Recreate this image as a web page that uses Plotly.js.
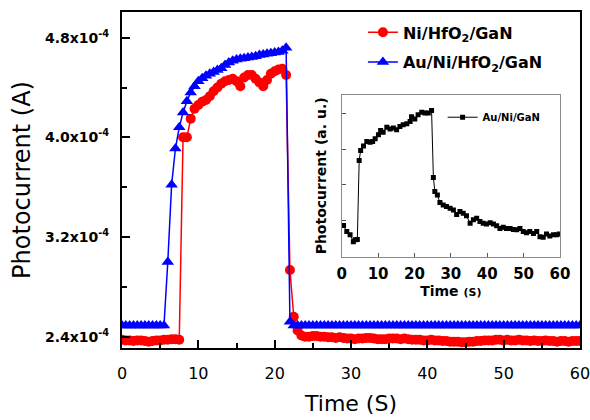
<!DOCTYPE html>
<html>
<head>
<meta charset="utf-8">
<script src="https://cdn.plot.ly/plotly-3.0.1.min.js"></script>
<style>html,body{margin:0;padding:0;background:#fff;}</style>
</head>
<body>
<div id="chart" style="width:590px;height:420px;"></div>
<script>
// ---- main chart data ----
const timeMain = [0,0.5,1,1.5,2,2.5,3,3.5,4,4.5,5,5.5,6,6.5,7,7.5,8,8.5,9,9.5,10,10.5,11,11.5,12,12.5,13,13.5,14,14.5,15,15.5,16,16.5,17,17.5,18,18.5,19,19.5,20,20.5,21,21.5,22,22.5,23,23.5,24,24.5,25,25.5,26,26.5,27,27.5,28,28.5,29,29.5,30,30.5,31,31.5,32,32.5,33,33.5,34,34.5,35,35.5,36,36.5,37,37.5,38,38.5,39,39.5,40,40.5,41,41.5,42,42.5,43,43.5,44,44.5,45,45.5,46,46.5,47,47.5,48,48.5,49,49.5,50,50.5,51,51.5,52,52.5,53,53.5,54,54.5,55,55.5,56,56.5,57,57.5,58,58.5,59,59.5,60];

const niHfO2GaN = [
 2.375e-4,2.370e-4,2.370e-4,2.365e-4,2.370e-4,2.370e-4,2.365e-4,2.360e-4,2.365e-4,2.370e-4,2.370e-4,2.375e-4,2.375e-4,2.380e-4,2.380e-4,2.375e-4,
 4.000e-4,4.000e-4,4.150e-4,4.230e-4,4.260e-4,4.285e-4,4.300e-4,4.330e-4,4.370e-4,4.400e-4,4.430e-4,4.450e-4,4.460e-4,4.470e-4,4.450e-4,4.410e-4,4.480e-4,4.500e-4,4.500e-4,4.470e-4,4.440e-4,4.410e-4,4.460e-4,4.510e-4,4.530e-4,4.545e-4,4.550e-4,4.500e-4,
 2.935e-4,2.560e-4,2.450e-4,2.410e-4,2.400e-4,
 2.400e-4,2.405e-4,2.405e-4,2.400e-4,2.400e-4,2.395e-4,2.395e-4,2.390e-4,2.395e-4,2.390e-4,2.385e-4,2.385e-4,2.380e-4,2.385e-4,2.385e-4,2.390e-4,2.390e-4,2.385e-4,2.380e-4,2.380e-4,2.380e-4,2.385e-4,2.385e-4,2.385e-4,2.380e-4,2.385e-4,2.380e-4,2.375e-4,2.375e-4,2.375e-4,2.370e-4,2.370e-4,2.375e-4,2.370e-4,2.370e-4,2.365e-4,2.365e-4,2.360e-4,2.360e-4,2.360e-4,2.355e-4,2.355e-4,2.360e-4,2.360e-4,2.365e-4,2.365e-4,2.370e-4,2.370e-4,2.370e-4,2.375e-4,2.375e-4,2.370e-4,2.375e-4,2.370e-4,2.370e-4,2.375e-4,2.370e-4,2.370e-4,2.365e-4,2.370e-4,2.365e-4,2.365e-4,2.370e-4,2.365e-4,2.365e-4,2.360e-4,2.365e-4,2.365e-4,2.360e-4,2.365e-4,2.365e-4,2.365e-4
];

const auNiHfO2GaN = [
 2.49e-4,2.49e-4,2.49e-4,2.49e-4,2.49e-4,2.49e-4,2.49e-4,2.49e-4,2.49e-4,2.49e-4,2.49e-4,2.49e-4,
 3.000e-4,3.620e-4,3.910e-4,4.080e-4,4.200e-4,4.290e-4,4.360e-4,4.410e-4,4.450e-4,4.475e-4,4.495e-4,4.510e-4,4.525e-4,4.540e-4,4.555e-4,4.580e-4,4.600e-4,4.615e-4,4.625e-4,4.630e-4,4.635e-4,4.640e-4,4.645e-4,4.650e-4,4.660e-4,4.665e-4,4.670e-4,4.675e-4,4.680e-4,4.685e-4,4.695e-4,4.720e-4,
 2.52e-4,
 2.49e-4,2.49e-4,2.49e-4,2.49e-4,2.49e-4,2.49e-4,2.49e-4,2.49e-4,2.49e-4,2.49e-4,2.49e-4,2.49e-4,2.49e-4,2.49e-4,2.49e-4,2.49e-4,2.49e-4,2.49e-4,2.49e-4,2.49e-4,
 2.49e-4,2.49e-4,2.49e-4,2.49e-4,2.49e-4,2.49e-4,2.49e-4,2.49e-4,2.49e-4,2.49e-4,2.49e-4,2.49e-4,2.49e-4,2.49e-4,2.49e-4,2.49e-4,2.49e-4,2.49e-4,2.49e-4,2.49e-4,
 2.49e-4,2.49e-4,2.49e-4,2.49e-4,2.49e-4,2.49e-4,2.49e-4,2.49e-4,2.49e-4,2.49e-4,2.49e-4,2.49e-4,2.49e-4,2.49e-4,2.49e-4,2.49e-4,2.49e-4,2.49e-4,2.49e-4,2.49e-4,
 2.49e-4,2.49e-4,2.49e-4,2.49e-4,2.49e-4,2.49e-4,2.49e-4,2.49e-4,2.49e-4,2.49e-4,2.49e-4,2.49e-4,2.49e-4,2.49e-4,2.49e-4,2.49e-4
];

const xTickVals = [0,10,20,30,40,50,60];
const xTickText = ['0','10','20','30','40','50','60'];
const yTickVals = [2.4e-4,3.2e-4,4.0e-4,4.8e-4];
const yTickText = ['2.4x10<sup>-4</sup>','3.2x10<sup>-4</sup>','4.0x10<sup>-4</sup>','4.8x10<sup>-4</sup>'];

// ---- inset data (arbitrary units) ----
const timeInset = [0.5,1.4,2.3,3.2,3.7,4.3,4.8,5.2,6.0,6.9,7.8,8.5,9.2,10.1,10.7,11.4,12.4,13.3,14.2,15.1,16.0,16.9,17.9,18.8,19.2,20.1,21.0,22.0,22.9,23.8,24.7,25.2,25.6,26.3,27.0,27.9,28.8,29.8,30.7,31.6,32.5,33.4,34.3,35.3,36.2,37.1,38.0,38.9,39.8,40.8,41.7,42.6,43.5,44.4,45.3,46.3,47.2,48.1,49.0,49.9,50.8,51.7,52.7,53.6,54.5,55.4,56.3,57.2,58.2,59.1,59.8];
const auNiGaN = [0.87,0.70,0.61,0.42,0.47,0.48,2.68,2.96,3.09,3.21,3.19,3.21,3.29,3.40,3.52,3.47,3.61,3.56,3.59,3.54,3.63,3.68,3.71,3.77,3.90,3.84,3.96,4.03,4.01,4.01,4.08,2.21,1.82,1.72,1.51,1.44,1.40,1.35,1.30,1.18,1.26,1.21,1.14,0.93,1.03,1.07,0.98,0.93,0.91,0.95,0.91,0.86,0.79,0.82,0.79,0.79,0.76,0.75,0.79,0.70,0.67,0.70,0.65,0.70,0.56,0.54,0.63,0.58,0.61,0.61,0.63];
const insetXTickVals = [0,10,20,30,40,50,60];
const insetYTickVals = [1,2,3,4];

const FONT = 'DejaVu Sans';

const traces = [
  {x: timeMain, y: niHfO2GaN, type:'scatter', mode:'lines+markers', name:'Ni/HfO<sub>2</sub>/GaN',
   line:{color:'#ff0000', width:1.5}, marker:{symbol:'circle', size:10, color:'#ff0000'},
   xaxis:'x', yaxis:'y', legend:'legend', legendgroup:'a'},
  {x: timeMain, y: auNiHfO2GaN, type:'scatter', mode:'lines+markers', name:'Au/Ni/HfO<sub>2</sub>/GaN',
   line:{color:'#0000ff', width:1.5}, marker:{symbol:'triangle-up', size:11, color:'#0000ff'},
   xaxis:'x', yaxis:'y', legend:'legend', legendgroup:'b'},
  {x: timeInset, y: auNiGaN, type:'scatter', mode:'lines+markers', name:'Au/Ni/GaN',
   line:{color:'#000000', width:1}, marker:{symbol:'square', size:5, color:'#000000'},
   xaxis:'x2', yaxis:'y3', legend:'legend2'}
];

const layout = {
  width:590, height:420,
  margin:{l:122, r:10, t:12, b:72},
  paper_bgcolor:'#ffffff', plot_bgcolor:'#ffffff',
  font:{family:FONT, color:'#000000'},
  showlegend:true,
  xaxis:{
    domain:[0,1], range:[0,60], anchor:'y',
    tickmode:'array', tickvals:xTickVals, ticktext:xTickText,
    ticks:'inside', ticklen:8, tickwidth:2, tickcolor:'#000',
    minor:{dtick:5, tick0:0, ticks:'inside', ticklen:5, tickwidth:2, tickcolor:'#000'},
    showline:true, linewidth:2, linecolor:'#000', mirror:true,
    showgrid:false, zeroline:false, ticklabeloverflow:'allow',
    tickfont:{family:FONT, size:16, color:'#000'}, ticklabelstandoff:10,
    title:{text:'Time (S)', font:{family:FONT, size:22, color:'#000'}, standoff:13}
  },
  yaxis:{
    domain:[0,1], range:[2.309e-4, 5.006e-4], anchor:'x',
    tickmode:'array', tickvals:yTickVals, ticktext:yTickText,
    ticks:'inside', ticklen:8, tickwidth:2, tickcolor:'#000',
    minor:{tickmode:'linear', dtick:0.4e-4, tick0:2.4e-4, ticks:'inside', ticklen:5, tickwidth:2, tickcolor:'#000'},
    showline:true, linewidth:2, linecolor:'#000', mirror:true,
    showgrid:false, zeroline:false,
    tickfont:{family:FONT, size:14, color:'#000', weight:'bold'}, ticklabelstandoff:8,
    title:{text:'Photocurrent (A)', font:{family:FONT, size:24, color:'#000'}, standoff:8}
  },
  yaxis2:{
    overlaying:'y', side:'right', anchor:'x', range:[0,6.4],
    tickmode:'array', tickvals:[0.39,1.39,2.39,3.39,4.39,5.39,6.39],
    ticks:'inside', ticklen:7, tickwidth:2, tickcolor:'#000',
    showticklabels:false, showline:false, showgrid:false, zeroline:false
  },
  xaxis2:{
    domain:[0.4797,0.9563], range:[0,60], anchor:'y3',
    tickmode:'array', tickvals:insetXTickVals,
    ticks:'inside', ticklen:4, tickwidth:1, tickcolor:'#555',
    showline:true, linewidth:1, linecolor:'#8a8a8a', mirror:true,
    showgrid:false, zeroline:false,
    tickfont:{family:FONT, size:15, color:'#000', weight:'bold'}, ticklabelstandoff:3,
    title:{text:'Time <span style="font-size:11px">(S)</span>', font:{family:FONT, size:14, color:'#000', weight:'bold'}, standoff:1}
  },
  yaxis3:{
    domain:[0.2717,0.753], range:[0,4.51], anchor:'x2',
    tickmode:'array', tickvals:insetYTickVals,
    ticks:'inside', ticklen:4, tickwidth:1, tickcolor:'#555',
    showline:true, linewidth:1, linecolor:'#8a8a8a', mirror:true,
    showgrid:false, zeroline:false, showticklabels:false,
    title:{text:'Photocurrent (a. u.)', font:{family:FONT, size:14, color:'#000', weight:'bold'}, standoff:10}
  },
  legend:{
    x:0.526, xanchor:'left', y:0.99, yanchor:'top',
    bgcolor:'rgba(0,0,0,0)', borderwidth:0, tracegroupgap:6,
    font:{family:FONT, size:16, color:'#000', weight:'bold'}
  },
  legend2:{
    x:0.70, xanchor:'left', y:0.73, yanchor:'top',
    bgcolor:'rgba(0,0,0,0)', borderwidth:0,
    font:{family:FONT, size:10, color:'#000', weight:'bold'}
  }
};

Plotly.newPlot('chart', traces, layout, {displayModeBar:false, staticPlot:true});
</script>
</body>
</html>
